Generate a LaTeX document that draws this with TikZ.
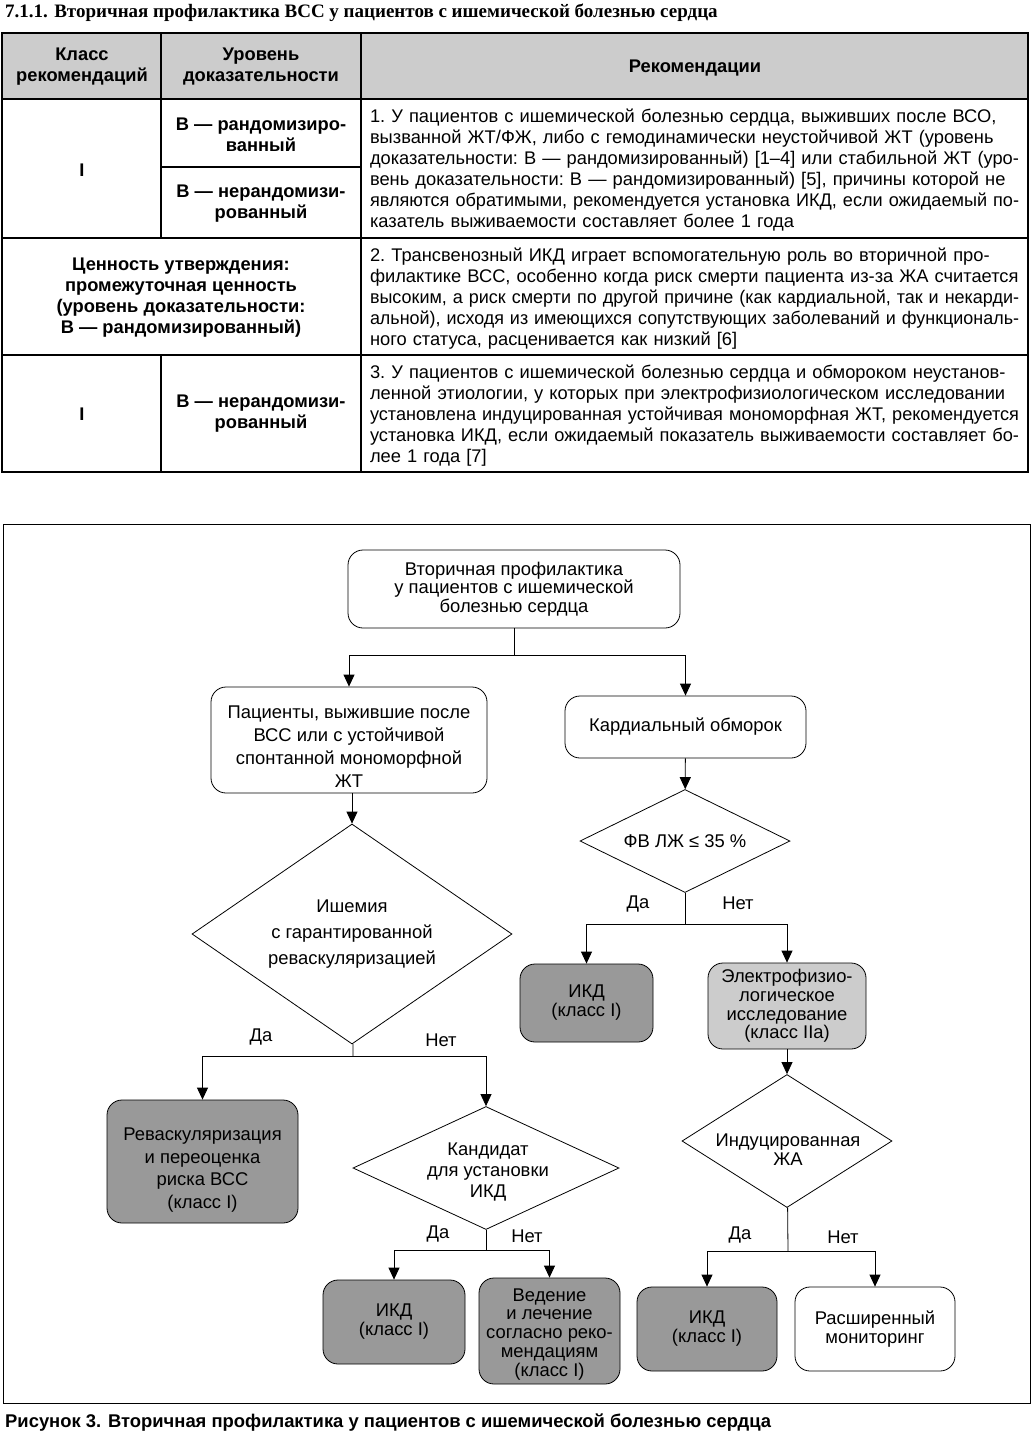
\documentclass[tikz,border=0pt]{standalone}
\usepackage{fontspec}
\setmainfont{Liberation Sans}
\newfontfamily\headfont{Liberation Serif}
\usepackage{xcolor}
\usepackage{graphicx}
\usepackage{tikz}
\usetikzlibrary{positioning}
\usetikzlibrary{shapes.geometric,arrows.meta}
\definecolor{hdrgray}{gray}{0.8}
\definecolor{darkbox}{gray}{0.6}
\definecolor{lightbox}{gray}{0.8}
\newcommand{\fcfont}{\fontsize{18.4}{18.7}\selectfont}
\newcommand{\celltext}{\fontsize{18.3}{21}\selectfont}
\newcommand{\recfont}{\celltext\frenchspacing\spaceskip 0.278em plus 0.6em minus 0.05em\relax}
\newsavebox{\recline}
\newcommand{\jline}[1]{\sbox{\recline}{#1}%
  \ifdim\wd\recline>649pt\relax\noindent\resizebox{649pt}{\height}{\usebox{\recline}}%
  \else\hbox to 649pt{\unhcopy\recline}\fi\par}
\tikzstyle{box}=[rectangle,rounded corners=15pt,draw,line width=0.8pt,align=center,inner sep=2pt,font=\fcfont]
\tikzstyle{decision}=[diamond,draw,line width=0.8pt,align=center,inner sep=0pt,font=\fcfont]
\tikzstyle{edge} = [draw,line width=0.8pt,-{Triangle[length=12pt,width=11pt]}]
\tikzstyle{line} = [draw,line width=0.8pt]
\tikzstyle{answer} = [font=\fcfont]
\tikzset{hdr/.style={align=center,font=\celltext\bfseries}}
\tikzset{rec/.style={align=left,text width=649pt,inner sep=0pt,font=\recfont}}

\begin{document}
\begin{tikzpicture}[x=1pt,y=-1pt]
    \useasboundingbox (0,0) rectangle (1033,1436);
    % Table title
    \node[anchor=west,inner sep=0pt] (title) at (5,13) {\headfont\bfseries\fontsize{19}{21}\selectfont 7.1.1. Вторичная профилактика ВСС у пациентов с ишемической болезнью сердца};

    % Table grid
    \fill[hdrgray] (2,33) rectangle (1028,99);
    \draw[line width=1.2pt] (2,33) rectangle (1028,472);
    \draw[line width=1.2pt] (2,99) -- (1028,99) (2,238) -- (1028,238) (2,355) -- (1028,355);
    \draw[line width=1.2pt] (161,167) -- (361,167);
    \draw[line width=1.2pt] (161,33) -- (161,238) (161,355) -- (161,472) (361,33) -- (361,472);

    % Header cells
    \node[hdr] (hclass) at (82,67) {Класс\\рекомендаций};
    \node[hdr] (hlevel) at (261,67) {Уровень\\доказательности};
    \node[hdr] (hrec) at (695,68) {Рекомендации};

    % Row 1
    \node[hdr] (classA) at (82,170) {I};
    \node[hdr] (levelA) at (261,135) {В — рандомизиро-\\ванный};
    \node[hdr] (levelB) at (261,204) {В — нерандомизи-\\рованный};
    \node[rec] (recA) at (694.5,170.5) {%
      \jline{1. У пациентов с ишемической болезнью сердца, выживших после ВСО,}
      \jline{вызванной ЖТ/ФЖ, либо с гемодинамически неустойчивой ЖТ (уровень}
      \jline{доказательности: В — рандомизированный) [1–4] или стабильной ЖТ (уро-}
      \jline{вень доказательности: В — рандомизированный) [5], причины которой не}
      \jline{являются обратимыми, рекомендуется установка ИКД, если ожидаемый по-}
      казатель выживаемости составляет более 1 года};

    % Row 2
    \node[hdr] (value) at (181,298) {Ценность утверждения:\\промежуточная ценность\\(уровень доказательности:\\В — рандомизированный)};
    \node[rec] (recB) at (694.5,298.5) {%
      \jline{2. Трансвенозный ИКД играет вспомогательную роль во вторичной про-}
      \jline{филактике ВСС, особенно когда риск смерти пациента из-за ЖА считается}
      \jline{высоким, а риск смерти по другой причине (как кардиальной, так и некарди-}
      \jline{альной), исходя из имеющихся сопутствующих заболеваний и функциональ-}
      ного статуса, расценивается как низкий [6]};

    % Row 3
    \node[hdr] (classC) at (82,414) {I};
    \node[hdr] (levelC) at (261,414) {В — нерандомизи-\\рованный};
    \node[rec] (recC) at (694.5,415.5) {%
      \jline{3. У пациентов с ишемической болезнью сердца и обмороком неустанов-}
      \jline{ленной этиологии, у которых при электрофизиологическом исследовании}
      \jline{установлена индуцированная устойчивая мономорфная ЖТ, рекомендуется}
      \jline{установка ИКД, если ожидаемый показатель выживаемости составляет бо-}
      лее 1 года [7]};

    % Flowchart frame
    \draw[line width=0.8pt] (3,524) rectangle (1030,1403);

    % First we draw the boxes
    \node[box, minimum width=332pt, minimum height=78pt] (start) at (514,589) {Вторичная профилактика\\у пациентов с ишемической\\болезнью сердца};
    \node[box, minimum width=276pt, minimum height=106pt, font=\fontsize{18.4}{23}\selectfont] (survivors) at (349,740) {\rule{0pt}{25.5pt}Пациенты, выжившие после\\ВСС или с устойчивой\\спонтанной мономорфной\\ЖТ};
    \node[box, minimum width=241pt, minimum height=62pt] (syncope) at (685.5,727) {Кардиальный обморок};
    \node[decision, aspect=2.04, minimum width=210pt, minimum height=103pt] (lvef) at (685,841) {ФВ ЛЖ ≤ 35 \%};
    \node[box, fill=darkbox, minimum width=133pt, minimum height=78pt, font=\fontsize{18.4}{19}\selectfont] (icdA) at (586.5,1003) {ИКД\\(класс I)};
    \node[box, fill=lightbox, minimum width=158pt, minimum height=86pt] (eps) at (787,1006) {Электрофизио-\\логическое\\исследование\\(класс IIa)};
    \node[decision, aspect=1.58, minimum width=210pt, minimum height=133pt] (induced) at (787,1141) {};
    \node[answer, align=center] (inducedText) at (788,1150) {Индуцированная\\ЖА};
    \node[box, fill=darkbox, minimum width=140pt, minimum height=84pt, font=\fontsize{18.4}{19}\selectfont] (icdC) at (707,1329) {ИКД\\(класс I)};
    \node[box, minimum width=160pt, minimum height=84pt] (monitor) at (875,1329) {Расширенный\\мониторинг};
    \node[decision, aspect=1.45, minimum width=320pt, minimum height=220pt, font=\fontsize{18.4}{26}\selectfont] (ischemia) at (352,934) {Ишемия\\с гарантированной\\реваскуляризацией};
    \node[box, fill=darkbox, minimum width=191pt, minimum height=123pt, font=\fontsize{18.4}{22.7}\selectfont] (revasc) at (202.5,1161.5) {\rule{0pt}{29.5pt}Реваскуляризация\\и переоценка\\риска ВСС\\(класс I)};
    \node[decision, aspect=2.16, minimum width=266pt, minimum height=123pt] (candidate) at (486,1168) {};
    \node[answer, align=center, font=\fontsize{18.4}{21}\selectfont] (candidateText) at (488,1172) {Кандидат\\для установки\\ИКД};
    \node[box, fill=darkbox, minimum width=142pt, minimum height=84pt, font=\fontsize{18.4}{19}\selectfont] (icdB) at (394,1322) {ИКД\\(класс I)};
    \node[box, fill=darkbox, minimum width=141pt, minimum height=106pt] (manage) at (549.5,1331) {\rule{0pt}{19pt}Ведение\\и лечение\\согласно реко-\\мендациям\\(класс I)};

    % Branch points
    \coordinate (splitStart) at (514,655);
    \coordinate (splitLvef) at (685,924);
    \coordinate (splitIsch) at (353,1056);
    \coordinate (splitCand) at (486,1250);
    \coordinate (splitInd) at (788,1251);

    % Connect boxes with edges
    \path[line] (start) -- (splitStart);
    \path[edge] (splitStart) -| (survivors);
    \path[edge] (splitStart) -| (syncope);
    \path[edge] (syncope) -- (lvef);
    \path[line] (lvef) -- (splitLvef);
    \path[edge] (splitLvef) -| (icdA);
    \path[edge] (splitLvef) -| (eps);
    \path[edge] (eps) -- (induced);
    \path[line] (induced) -- (splitInd);
    \path[edge] (splitInd) -| (icdC);
    \path[edge] (splitInd) -| (monitor);
    \path[edge] (ischemia.north |- survivors.south) -- (ischemia.north);
    \path[line] (ischemia) -- (splitIsch);
    \path[edge] (splitIsch) -| (revasc);
    \path[edge] (splitIsch) -| (candidate);
    \path[line] (candidate) -- (splitCand);
    \path[edge] (splitCand) -| (icdB);
    \path[edge] (splitCand) -| (manage);

    % Answers
    \foreach \pos/\name/\answer in {{(261,1037)/yesIsch/Да}, {(441,1040)/noIsch/Нет},
      {(638,904)/yesLvef/Да}, {(738,903)/noLvef/Нет},
      {(438,1234)/yesCand/Да}, {(527,1236)/noCand/Нет},
      {(740,1235)/yesInd/Да}, {(843,1237)/noInd/Нет}}
        \node[answer] (\name) at \pos {\answer};

    % Caption
    \node[anchor=west,inner sep=0pt] (caption) at (5,1423) {\bfseries\fontsize{18.4}{20}\selectfont Рисунок 3. Вторичная профилактика у пациентов с ишемической болезнью сердца};
\end{tikzpicture}
\end{document}
